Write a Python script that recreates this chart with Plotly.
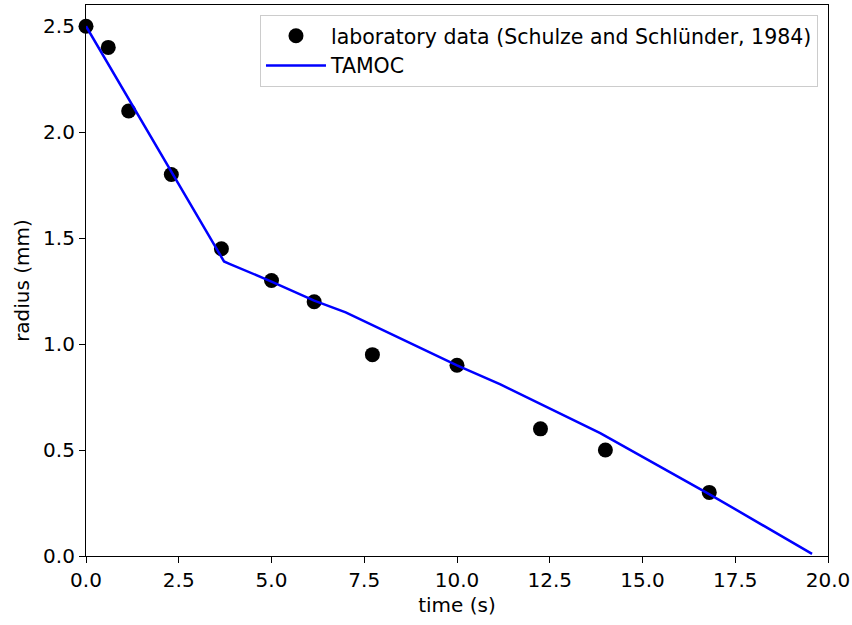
import plotly.graph_objects as go

# laboratory data (Schulze and Schlünder, 1984)
lab_time = [0.0, 0.6, 1.15, 2.3, 3.65, 5.0, 6.15, 7.72, 10.0, 12.25, 14.0, 16.8]
lab_radius = [2.5, 2.4, 2.1, 1.8, 1.45, 1.3, 1.2, 0.95, 0.9, 0.6, 0.5, 0.3]

# TAMOC model
tamoc_time = [0.0, 3.72, 3.85, 5.0, 6.15, 7.0, 10.0, 11.17, 13.86, 16.82, 19.57]
tamoc_radius = [2.5, 1.39, 1.38, 1.295, 1.205, 1.15, 0.90, 0.81, 0.58, 0.29, 0.01]

x_ticks = [0.0, 2.5, 5.0, 7.5, 10.0, 12.5, 15.0, 17.5, 20.0]
y_ticks = [0.0, 0.5, 1.0, 1.5, 2.0, 2.5]

FONT = "DejaVu Sans"

fig = go.Figure()
fig.add_trace(go.Scatter(
    x=lab_time, y=lab_radius, mode="markers",
    name="laboratory data (Schulze and Schlünder, 1984)",
    marker=dict(color="black", size=15),
    cliponaxis=False,
))
fig.add_trace(go.Scatter(
    x=tamoc_time, y=tamoc_radius, mode="lines",
    name="TAMOC",
    line=dict(color="#0000ff", width=2.5),
))

axis_common = dict(
    showline=True, linecolor="black", linewidth=1.2, mirror=True,
    ticks="outside", ticklen=6, tickcolor="black", tickwidth=1.2,
    showgrid=False, zeroline=False,
    tickfont=dict(family=FONT, size=20, color="black"),
)

fig.update_xaxes(
    range=[0, 20], tickvals=x_ticks, ticktext=[f"{v:.1f}" for v in x_ticks],
    title=dict(text="time (s)", font=dict(family=FONT, size=20, color="black"), standoff=6),
    **axis_common,
)
fig.update_yaxes(
    range=[0, 2.6], tickvals=y_ticks, ticktext=[f"{v:.1f}" for v in y_ticks],
    title=dict(text="radius (mm)", font=dict(family=FONT, size=20, color="black"), standoff=8),
    **axis_common,
)

fig.update_layout(
    width=852, height=625,
    margin=dict(l=86, r=24, t=5, b=69, autoexpand=False),
    paper_bgcolor="white", plot_bgcolor="white",
    font=dict(family=FONT, size=20, color="black"),
    showlegend=True,
    legend=dict(
        x=0.9865, y=0.982, xanchor="right", yanchor="top",
        bgcolor="rgba(255,255,255,0.8)", bordercolor="#cccccc", borderwidth=1,
        font=dict(family=FONT, size=20.5, color="black"),
        itemwidth=60,
    ),
)

fig.write_html(
    "out.html",
    config={"displayModeBar": False},
    post_script="document.body.style.margin='0px';",
)
